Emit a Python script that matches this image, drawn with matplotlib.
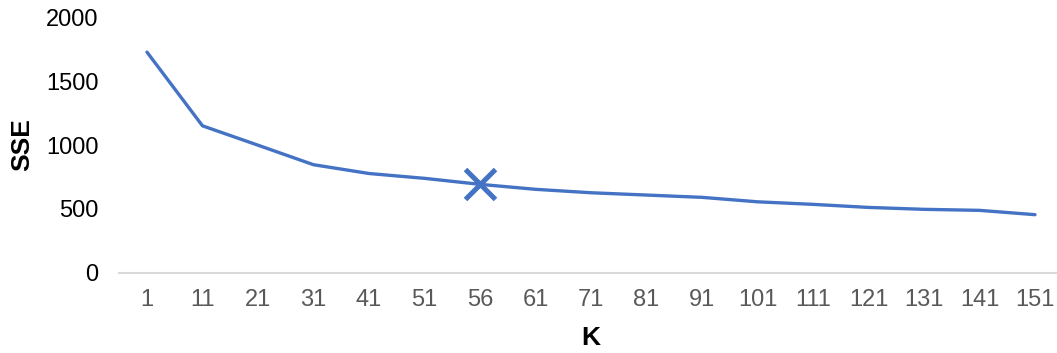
import matplotlib.pyplot as plt
import numpy as np

plt.rcParams['font.family'] = ['Liberation Sans', 'DejaVu Sans']

# number of clusters vs. sum of squared errors
k_labels = ['1', '11', '21', '31', '41', '51', '56', '61', '71', '81',
            '91', '101', '111', '121', '131', '141', '151']
sse = [1730, 1152, 1000, 847, 778, 740, 693, 654, 627, 609,
       591, 556, 536, 512, 497, 489, 455]
chosen_k = '56'

blue = '#4472C4'

fig = plt.figure(figsize=(10.57, 3.53), dpi=100)
ax = fig.add_axes([119.25 / 1057, 1 - 272.7 / 353, 943.5 / 1057, 255 / 353])

x = np.arange(len(k_labels))
ax.plot(x, sse, color=blue, lw=2.4, solid_capstyle='round', zorder=3)

i = k_labels.index(chosen_k)
ax.plot(x[i], sse[i], marker='x', ms=21, mew=3.6, color=blue, zorder=4)

ax.set_xlim(-0.5, len(k_labels) - 0.5)
ax.set_ylim(0, 2000)
ax.set_yticks([0, 500, 1000, 1500, 2000])
ax.set_xticks(x)
ax.set_xticklabels(k_labels)

for s in ['top', 'right', 'left']:
    ax.spines[s].set_visible(False)
ax.spines['bottom'].set_color('#D9D9D9')
ax.spines['bottom'].set_linewidth(1.5)

ax.tick_params(axis='y', length=0, pad=15, labelsize=17, labelcolor='black')
ax.tick_params(axis='x', length=0, pad=12, labelsize=17, labelcolor='#595959')

fig.text(591 / 1057, 1 - 338 / 353, 'K', fontsize=19, fontweight='bold',
         ha='center', va='center')
fig.text(22 / 1057, 1 - 145 / 353, 'SSE', fontsize=19, fontweight='bold',
         rotation=90, ha='center', va='center')

fig.savefig('out.png', dpi=100)
